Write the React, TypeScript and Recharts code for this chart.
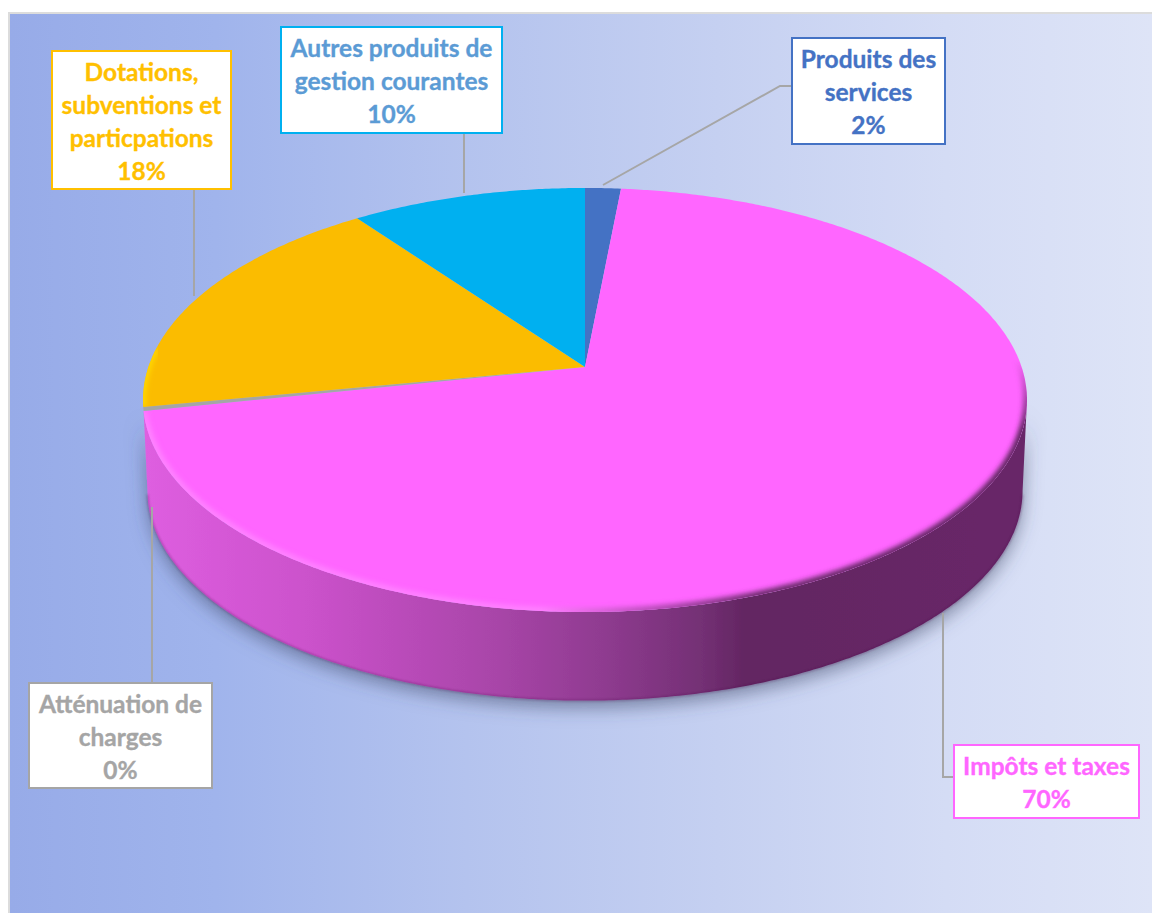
import { Pie, PieChart } from "recharts";

const CATEGORIES = [
  "Produits des services",
  "Impôts et taxes",
  "Atténuation de charges",
  "Dotations, subventions et particpations",
  "Autres produits de gestion courantes",
];
const VALUES = [1.52, 70.2, 0.3, 18, 10];
const COLORS = ["#4472c4", "#ff66ff", "#a5a5a5", "#fbbc00", "#00b0f0"];
const LABEL_COLORS = ["#4472c4", "#ff66ff", "#a5a5a5", "#ffc000", "#5b9bd5"];
const BORDER_COLORS = ["#4472c4", "#ff66ff", "#a5a5a5", "#ffc000", "#00b0f0"];
const LABEL_LINES = [
  ["Produits des", "services"],
  ["Impôts et taxes"],
  ["Atténuation de", "charges"],
  ["Dotations,", "subventions et", "particpations"],
  ["Autres produits de", "gestion courantes"],
];

// boîtes de labels et traits de rappel, en pixels de la page
const BOXES = [
  { x: 792, y: 38, w: 153, h: 106 },
  { x: 954, y: 745, w: 185, h: 73 },
  { x: 29, y: 683, w: 183, h: 105 },
  { x: 52, y: 51, w: 179, h: 138 },
  { x: 281, y: 27, w: 221, h: 106 },
];
const LEADERS = [
  "M603 185L780 86L792 86",
  "M943 613L943 777L954 777",
  "M152 507L152 683",
  "M194 296L194 189",
  "M464 193L464 133",
];

const data = CATEGORIES.map((name, i) => ({ name, value: VALUES[i], lines: LABEL_LINES[i] }));

// perspective du disque : un cercle unité vers une ellipse dont l'apex est décalé
const RX = 436.6;
const RY = 206.9;
const TILT = 0.1557;
const DEPTH = 91;
const BOTTOM_SCALE = 0.99;
const SILHOUETTE_ANGLE = -9; // angle où l'ellipse atteint son x maximum

function project(deg: number, cx: number, cy: number, scale = 1) {
  const rad = (deg * Math.PI) / 180;
  const u = Math.cos(rad);
  const v = -Math.sin(rad);
  const w = 1 - TILT * v;
  return [cx + (RX * scale * u) / w, cy + (RY * scale * v) / w];
}

function arcPoints(start: number, end: number, cx: number, cy: number, scale = 1) {
  const n = Math.max(2, Math.ceil(Math.abs(start - end) * 2));
  const pts: number[][] = [];
  for (let i = 0; i <= n; i++) pts.push(project(start + ((end - start) * i) / n, cx, cy, scale));
  return pts;
}

const toPath = (pts: number[][]) => pts.map((p, i) => `${i ? "L" : "M"}${p[0].toFixed(1)} ${p[1].toFixed(1)}`).join("");

function WallShape(props: any) {
  const { cx, cy, startAngle, endAngle, index } = props;
  if (index !== 1) return <g />;
  // seule la partie avant de la paroi est visible
  const from = Math.min(startAngle, SILHOUETTE_ANGLE);
  const top = arcPoints(from, endAngle, cx, cy);
  const bottom = arcPoints(from, endAngle, cx, cy + DEPTH, BOTTOM_SCALE);
  const ring = toPath([...top, ...bottom.reverse()]) + "Z";
  const frontEdge = arcPoints(-10, -170, cx, cy + DEPTH, BOTTOM_SCALE);
  return (
    <g>
      <path d={ring} fill="url(#wallGradient)" filter="url(#pieShadow)" />
      <path d={toPath(frontEdge)} fill="none" stroke="#4a0f4a" strokeOpacity={0.3} strokeWidth={2} filter="url(#softEdge)" />
    </g>
  );
}

function TopShape(props: any) {
  const { cx, cy, startAngle, endAngle, index, fill } = props;
  const rim = arcPoints(startAngle, endAngle, cx, cy);
  const face = toPath([[cx, cy], ...rim]) + "Z";
  const clipId = `faceClip${index}`;
  let bevel = null;
  if (index === 1) {
    const front = arcPoints(30, endAngle, cx, cy);
    bevel = (
      <g mask="url(#rimMask)">
        <path d={toPath(front)} fill="none" stroke="url(#rimGradient)" strokeWidth={8} filter="url(#rimBlur)" />
      </g>
    );
  } else if (index === 3) {
    const lower = arcPoints(startAngle, startAngle - 16, cx, cy);
    bevel = <path d={toPath(lower)} fill="none" stroke="#ffd800" strokeWidth={6} filter="url(#rimBlur)" />;
  }
  return (
    <g>
      <clipPath id={clipId}>
        <path d={face} />
      </clipPath>
      <path d={face} fill={fill} />
      {bevel && <g clipPath={`url(#${clipId})`}>{bevel}</g>}
    </g>
  );
}

function SliceLabel(props: any) {
  const { index, percent } = props;
  const box = BOXES[index];
  const lines = [...LABEL_LINES[index], `${Math.round(percent * 100)}%`];
  return (
    <g>
      <rect x={box.x} y={box.y} width={box.w} height={box.h} fill="#ffffff" stroke={BORDER_COLORS[index]} strokeWidth={2} />
      <text
        textAnchor="middle"
        fontFamily="Lato"
        fontWeight={700}
        fontSize={24.5}
        stroke={LABEL_COLORS[index]}
        strokeWidth={0.35}
        fill={LABEL_COLORS[index]}
      >
        {lines.map((line, i) => (
          <tspan key={i} x={box.x + box.w / 2} y={box.y + 30 + i * 33}>
            {line}
          </tspan>
        ))}
      </text>
    </g>
  );
}

function LeaderLine(props: any) {
  return <path d={LEADERS[props.index]} fill="none" stroke="#a6a6a6" strokeWidth={2} />;
}

export default function App() {
  return (
    <div style={{ position: "absolute", left: 0, top: 0, width: 1152, height: 913, background: "#ffffff", overflow: "hidden" }}>
      <div
        style={{
          position: "absolute",
          left: 8,
          top: 12,
          width: 1144,
          height: 901,
          boxSizing: "border-box",
          borderLeft: "2px solid #dcdcdc",
          borderTop: "2px solid #dcdcdc",
          background: "linear-gradient(90deg, #97abe8 0%, #a0b4ec 18%, #b4c3ee 40%, #c5d0f1 62%, #d4dcf5 82%, #dee4f7 100%)",
        }}
      />
      <div style={{ position: "absolute", left: 0, top: 0 }}>
        <PieChart width={1152} height={913} margin={{ top: 0, right: 0, bottom: 0, left: 0 }}>
          <defs>
            <linearGradient id="wallGradient" gradientUnits="userSpaceOnUse" x1="145" y1="0" x2="1027" y2="0">
              <stop offset="0%" stopColor="#de5ee0" />
              <stop offset="18%" stopColor="#cc52cc" />
              <stop offset="40%" stopColor="#a845a8" />
              <stop offset="52%" stopColor="#8f3b90" />
              <stop offset="63%" stopColor="#743075" />
              <stop offset="68%" stopColor="#632662" />
              <stop offset="100%" stopColor="#682868" />
            </linearGradient>
            <linearGradient id="rimGradient" gradientUnits="userSpaceOnUse" x1="145" y1="0" x2="1027" y2="0">
              <stop offset="0%" stopColor="#ff82ff" />
              <stop offset="45%" stopColor="#ff80ff" />
              <stop offset="56%" stopColor="#c050c0" />
              <stop offset="70%" stopColor="#6a2a6a" />
              <stop offset="100%" stopColor="#5f2560" />
            </linearGradient>
            <linearGradient id="rimFade" gradientUnits="userSpaceOnUse" x1="0" y1="360" x2="0" y2="430">
              <stop offset="0%" stopColor="#000000" />
              <stop offset="100%" stopColor="#ffffff" />
            </linearGradient>
            <mask id="rimMask" maskUnits="userSpaceOnUse" x="0" y="0" width="1152" height="913">
              <rect x="0" y="0" width="1152" height="913" fill="url(#rimFade)" />
            </mask>
            <filter id="rimBlur" x="-10%" y="-10%" width="120%" height="120%">
              <feGaussianBlur stdDeviation="2.4" />
            </filter>
            <filter id="softEdge" x="-10%" y="-20%" width="120%" height="140%">
              <feGaussianBlur stdDeviation="1" />
            </filter>
            <filter id="pieShadow" x="-10%" y="-10%" width="120%" height="125%">
              <feDropShadow dx="0" dy="7" stdDeviation="9" floodColor="#3c4668" floodOpacity="0.55" />
            </filter>
          </defs>
          <Pie
            data={data}
            dataKey="value"
            nameKey="name"
            cx={585}
            cy={367}
            outerRadius={200}
            startAngle={90}
            endAngle={-270}
            stroke="none"
            isAnimationActive={false}
            shape={WallShape}
          />
          <Pie
            data={data.map((d, i) => ({ ...d, fill: COLORS[i] }))}
            dataKey="value"
            nameKey="name"
            cx={585}
            cy={367}
            outerRadius={200}
            startAngle={90}
            endAngle={-270}
            stroke="none"
            isAnimationActive={false}
            shape={TopShape}
            label={SliceLabel}
            labelLine={LeaderLine}
          />
        </PieChart>
      </div>
    </div>
  );
}
